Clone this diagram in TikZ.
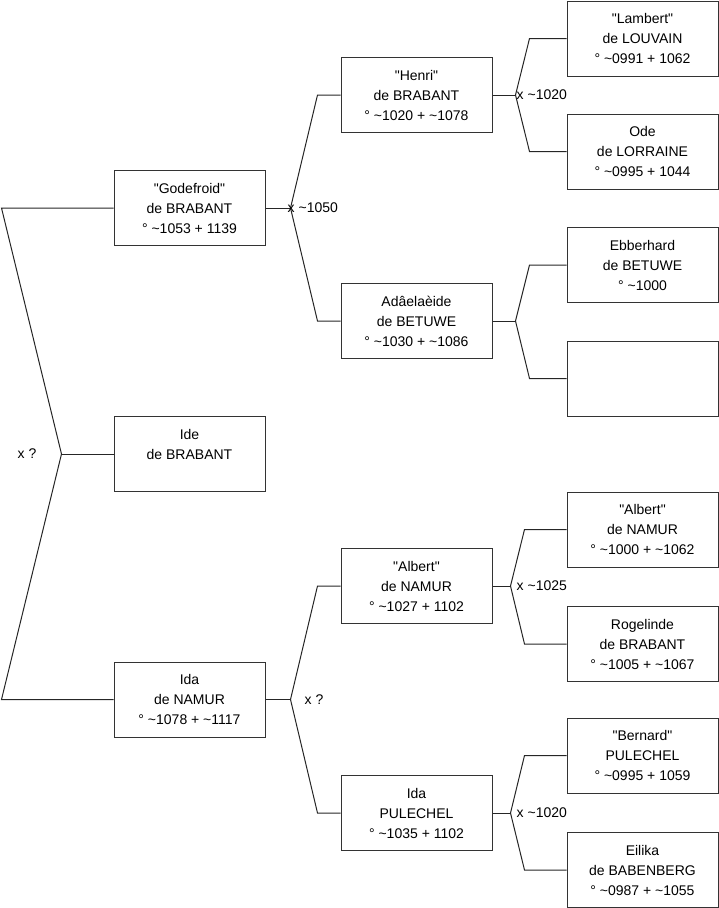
\documentclass[tikz,border=0pt]{standalone}
\usepackage{fontspec}
\setmainfont{Liberation Sans}
\usetikzlibrary{positioning, calc}
\newcommand{\ca}{\textasciitilde}
\newcommand{\qt}[1]{\textquotedbl#1\textquotedbl}
\tikzset{
  person/.style={draw=black!80, line width=1pt, rectangle, minimum width=151pt, minimum height=75pt, align=center, inner sep=0pt},
  lbl/.style={anchor=west, inner sep=0pt},
  link/.style={black!85, line width=1pt}
}

\begin{document}
\begin{tikzpicture}[x=1pt, y=-1pt, font=\fontsize{14}{20}\selectfont]
  \useasboundingbox (0,0) rectangle (719,908);
  % generation 1
  \node[person] (god)  at (189.5,208)   {\qt{Godefroid}\\de BRABANT\\° \ca1053 + 1139};
  \node[person] (ide)  at (189.5,454)   {Ide\\de BRABANT\\\mbox{}};
  \node[person] (idan) at (189.5,699.5) {Ida\\de NAMUR\\° \ca1078 + \ca1117};
  % generation 2
  \node[person] (henri)  at (416.5,95)  {\qt{Henri}\\de BRABANT\\° \ca1020 + \ca1078};
  \node[person] (adel)   at (416.5,321) {Adâelaèide\\de BETUWE\\° \ca1030 + \ca1086};
  \node[person] (albert) at (416.5,586) {\qt{Albert}\\de NAMUR\\° \ca1027 + 1102};
  \node[person] (idap)   at (416.5,813) {Ida\\PULECHEL\\° \ca1035 + 1102};
  % generation 3
  \node[person] (lambert) at (642.5,38.5)  {\qt{Lambert}\\de LOUVAIN\\° \ca0991 + 1062};
  \node[person] (ode)     at (642.5,151.5) {Ode\\de LORRAINE\\° \ca0995 + 1044};
  \node[person] (ebb)     at (642.5,265)   {Ebberhard\\de BETUWE\\° \ca1000};
  \node[person] (nobody)  at (642.5,378.5) {};
  \node[person] (albertn) at (642.5,529.5) {\qt{Albert}\\de NAMUR\\° \ca1000 + \ca1062};
  \node[person] (rogel)   at (642.5,644)   {Rogelinde\\de BRABANT\\° \ca1005 + \ca1067};
  \node[person] (bernard) at (642.5,755.5) {\qt{Bernard}\\PULECHEL\\° \ca0995 + 1059};
  \node[person] (eilika)  at (642.5,870)   {Eilika\\de BABENBERG\\° \ca0987 + \ca1055};

  % couples: child / father / mother / stub / bend
  \foreach \c/\f/\m/\d/\b in {god/henri/adel/25/23, henri/lambert/ode/23/37, adel/ebb/nobody/23/37,
      idan/albert/idap/25/23, albert/albertn/rogel/18/42, idap/bernard/eilika/18/42} {
    \coordinate (\c-j) at ($(\c.east)+(\d,0)$);
    \draw[link] (\c.east) -- (\c-j);
    \draw[link] (\f.west) -- ++(-\b,0) -- (\c-j) -- ($(\m.west)+(-\b,0)$) -- (\m.west);
  }
  \coordinate (root) at ($(ide.west)+(-52,0)$);
  \draw[link] (ide.west) -- (root);
  \draw[link] (god.west) -- ++(-112,0) -- (root) -- ($(idan.west)+(-112,0)$) -- (idan.west);

  % marriage labels
  \node[lbl] (mgod)  at ($(god-j)+(-3,0)$)    {x \ca1050};
  \node[lbl] (mhen)  at ($(henri-j)+(1,0)$)   {x \ca1020};
  \node[lbl] (malb)  at ($(albert-j)+(6,0)$)  {x \ca1025};
  \node[lbl] (mida)  at ($(idap-j)+(6,0)$)    {x \ca1020};
  \node[lbl] (midan) at ($(idan-j)+(14,0)$)   {x ?};
  \node[lbl] (mroot) at ($(root)+(-44,0)$)    {x ?};
\end{tikzpicture}
\end{document}
